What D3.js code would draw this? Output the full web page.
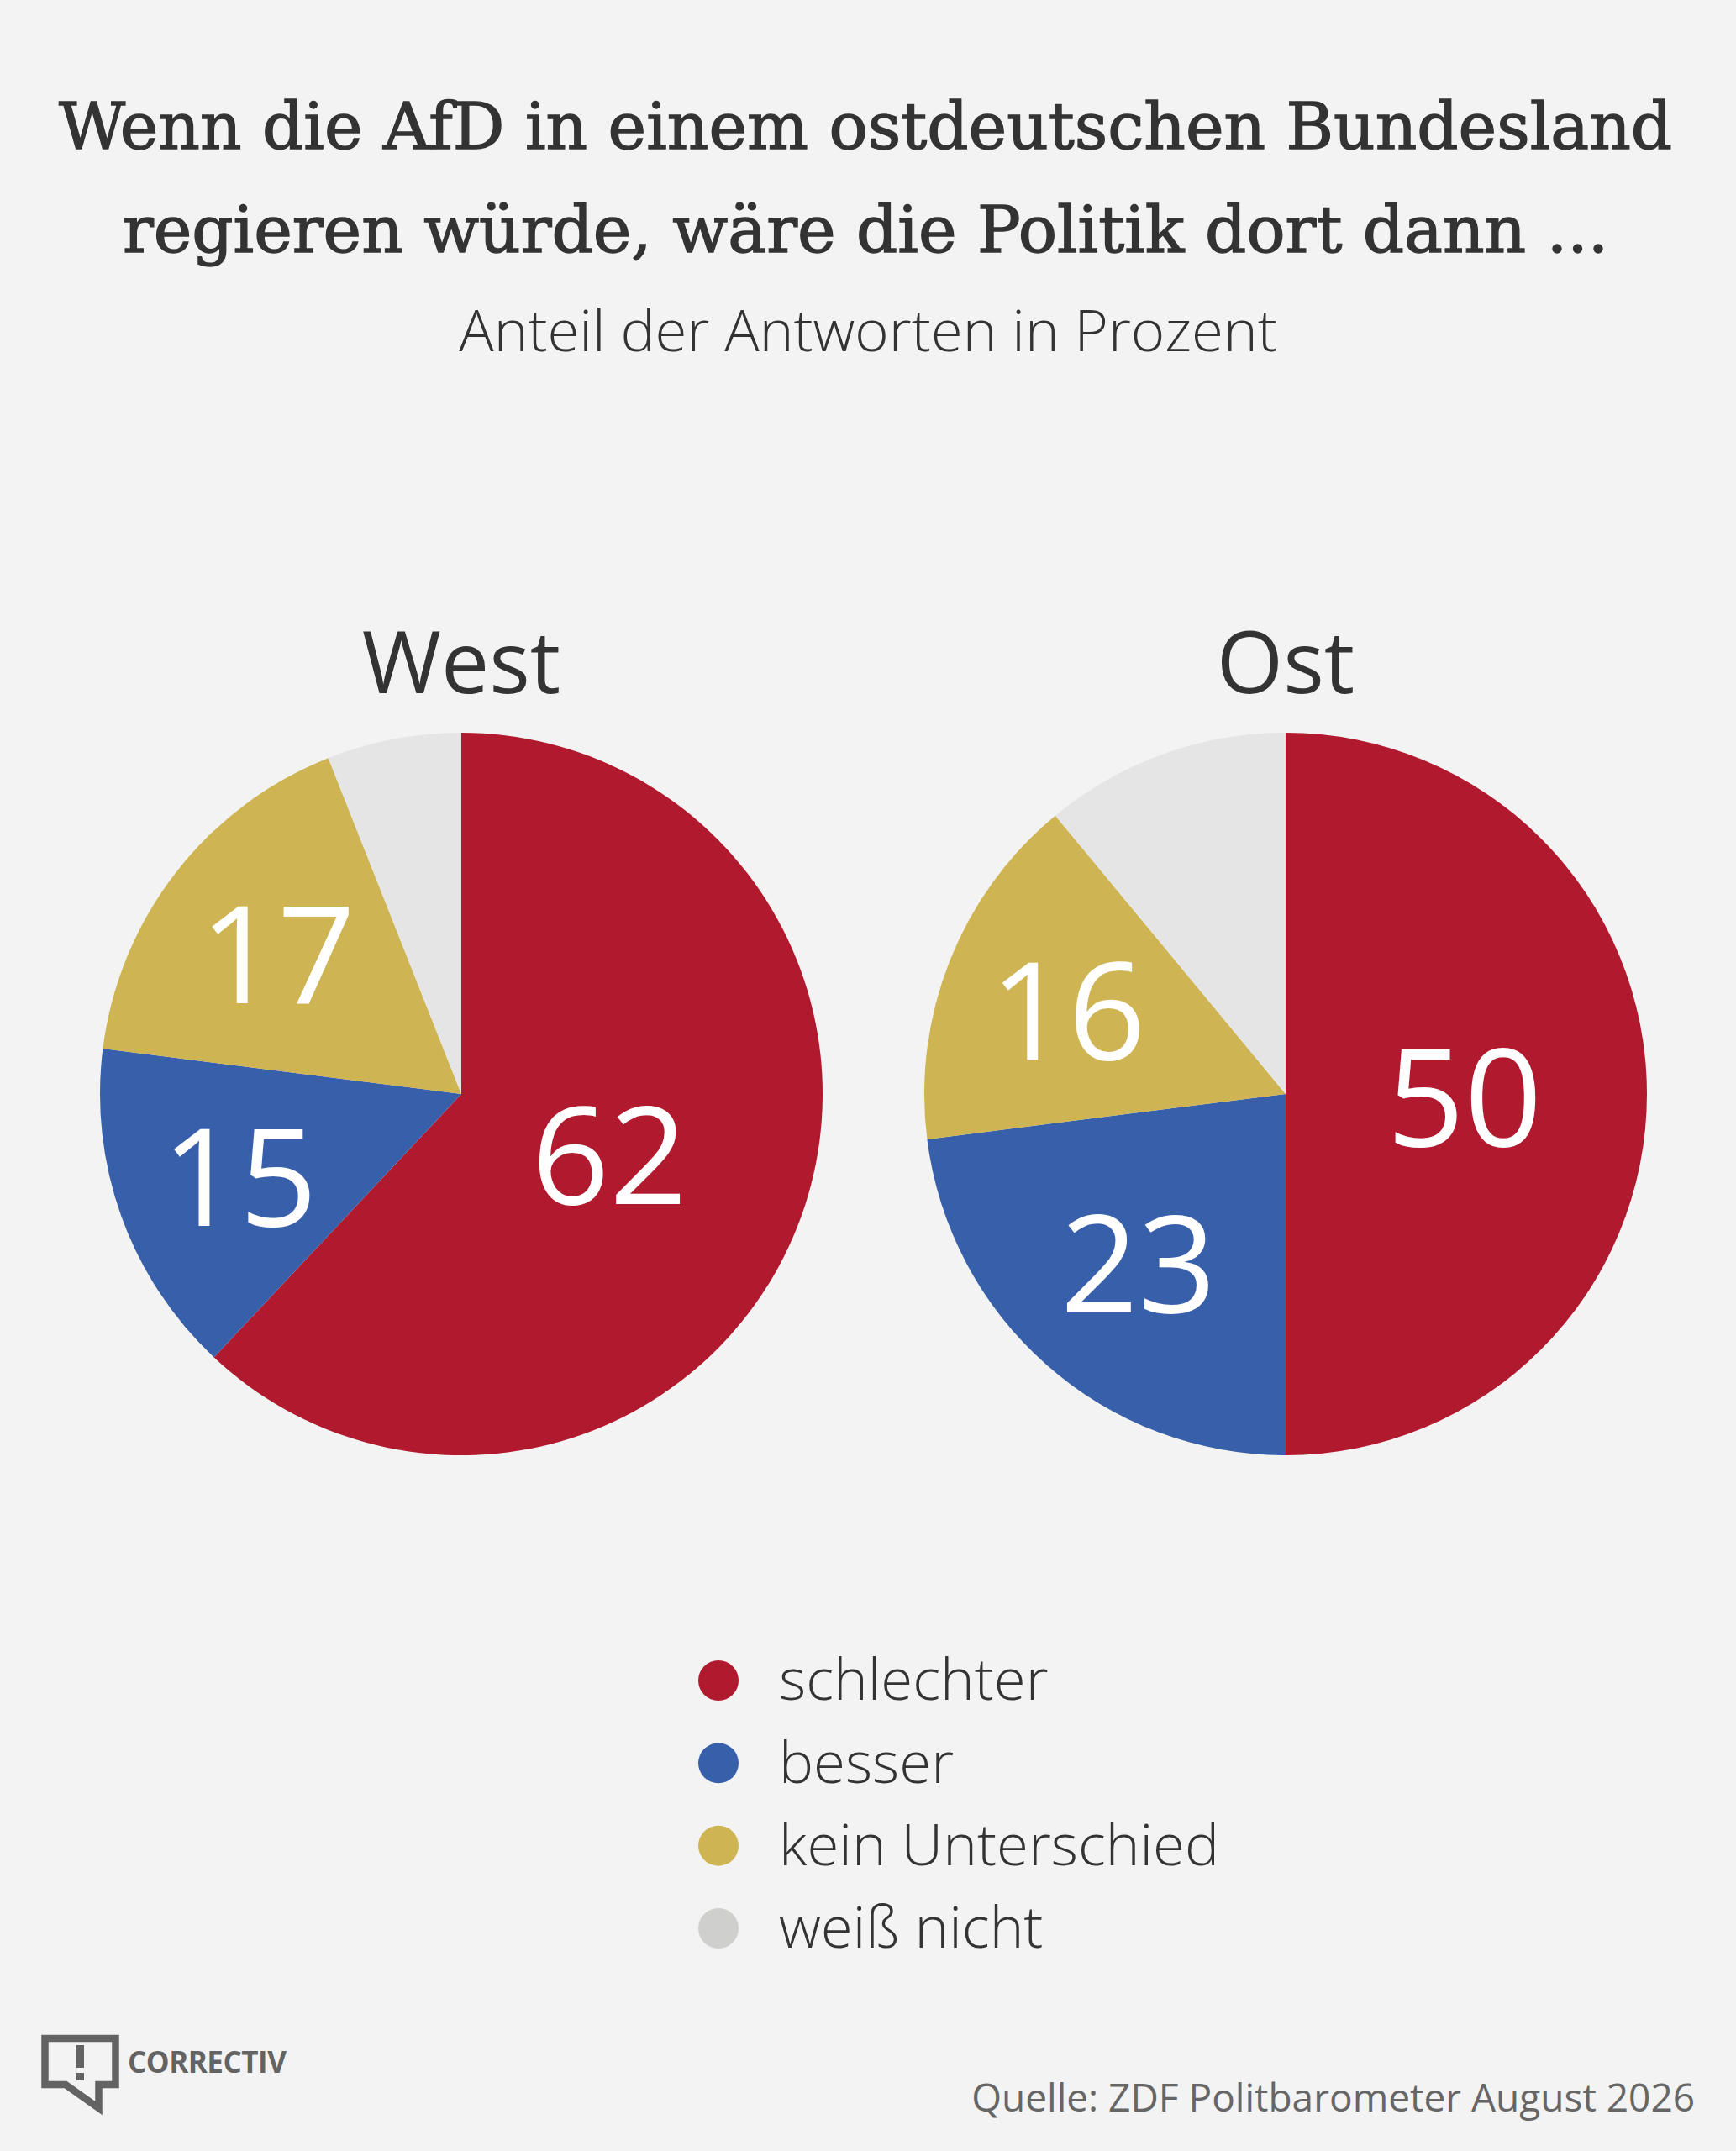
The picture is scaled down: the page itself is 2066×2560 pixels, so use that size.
<!DOCTYPE html>
<html lang="de">
<head>
<meta charset="UTF-8">
<title>AfD Umfrage West Ost</title>
<script src="https://cdn.jsdelivr.net/npm/d3@7"></script>
<style>
  html, body { margin: 0; padding: 0; background: #f3f3f3; }
  svg { display: block; }
</style>
</head>
<body>
<div id="chart"></div>
<script>
// Daten
var categories = ["schlechter", "besser", "kein Unterschied", "weiß nicht"];
var regions = ["West", "Ost"];
var westValues = [62, 15, 17, 6];
var ostValues = [50, 23, 16, 11];
var showLabel = [true, true, true, false];
var sliceColors = ["#b11a2e", "#3860aa", "#ceb452", "#e5e5e5"];
var legendColors = ["#b11a2e", "#3860aa", "#ceb452", "#cfcfcd"];

var width = 2066, height = 2560;
var sansFont = "'Open Sans', 'Noto Sans', sans-serif";

var svg = d3.select("#chart").append("svg")
    .attr("width", width)
    .attr("height", height);

svg.append("rect").attr("width", width).attr("height", height).attr("fill", "#f3f3f3");

// Titel
var title = svg.append("text")
    .attr("text-anchor", "middle")
    .attr("font-family", "'DejaVu Serif', serif")
    .attr("font-size", 77)
    .attr("fill", "#333")
    .attr("stroke", "#333")
    .attr("stroke-width", 1.4);
title.append("tspan").attr("x", 1030).attr("y", 177).text("Wenn die AfD in einem ostdeutschen Bundesland");
title.append("tspan").attr("x", 1030).attr("y", 300).text("regieren würde, wäre die Politik dort dann ...");

svg.append("text")
    .attr("x", 1033).attr("y", 418)
    .attr("text-anchor", "middle")
    .attr("font-family", sansFont)
    .attr("font-weight", 300)
    .attr("font-size", 69)
    .attr("fill", "#333")
    .text("Anteil der Antworten in Prozent");

// Kreise
var radius = 430;
var centerX = d3.scalePoint().domain(regions).range([549, 1530]);
var centerY = 1302;

var pie = d3.pie().sort(null).value(function(d) { return d.value; });
var arc = d3.arc().innerRadius(0).outerRadius(radius);

var pieData = [
  { region: "West", values: westValues },
  { region: "Ost", values: ostValues }
];

pieData.forEach(function(p) {
  var rows = categories.map(function(c, i) { return { cat: c, idx: i, value: p.values[i] }; });
  var total = d3.sum(rows, function(d) { return d.value; });
  var g = svg.append("g")
      .attr("transform", "translate(" + centerX(p.region) + "," + centerY + ")");

  g.append("text")
      .attr("x", 0).attr("y", -477)
      .attr("text-anchor", "middle")
      .attr("font-family", sansFont)
      .attr("font-size", 102)
      .attr("fill", "#333")
      .text(p.region);

  var arcs = pie(rows);
  g.selectAll("path.slice")
    .data(arcs)
    .enter().append("path")
      .attr("class", "slice")
      .attr("d", arc)
      .attr("fill", function(d) { return sliceColors[d.data.idx]; });

  g.selectAll("text.val")
    .data(arcs.filter(function(d) { return showLabel[d.data.idx]; }))
    .enter().append("text")
      .attr("class", "val")
      .attr("transform", function(d) {
        var frac = d.data.value / total;
        var lr = radius * (0.72 - 0.45 * frac);
        var c = d3.arc().innerRadius(lr).outerRadius(lr).centroid(d);
        return "translate(" + c[0] + "," + c[1] + ")";
      })
      .attr("text-anchor", "middle")
      .attr("dy", "0.38em")
      .attr("font-family", sansFont)
      .attr("font-size", 162)
      .attr("fill", "#fff")
      .text(function(d) { return d.data.value; });
});

// Legende
var legendY = d3.scalePoint().domain(categories).range([2000, 2295]);
var legend = svg.append("g");
var items = legend.selectAll("g")
  .data(categories)
  .enter().append("g")
    .attr("transform", function(d) { return "translate(855," + legendY(d) + ")"; });
items.append("circle")
    .attr("r", 24)
    .attr("fill", function(d, i) { return legendColors[i]; });
items.append("text")
    .attr("x", 72)
    .attr("dy", "0.34em")
    .attr("font-family", sansFont)
    .attr("font-weight", 300)
    .attr("font-size", 69)
    .attr("fill", "#333")
    .text(function(d) { return d; });

// Quelle
svg.append("text")
    .attr("x", 2017).attr("y", 2513)
    .attr("text-anchor", "end")
    .attr("font-family", sansFont)
    .attr("font-size", 46)
    .attr("fill", "#666")
    .text("Quelle: ZDF Politbarometer August 2026");

// Logo
var logo = svg.append("g").attr("fill", "#636363");
logo.append("path")
    .attr("fill", "none")
    .attr("stroke", "#636363")
    .attr("stroke-width", 8.5)
    .attr("d", "M53.5,2426 H137.5 V2481 H117.5 V2509 L78,2481 H53.5 Z");
logo.append("rect").attr("x", 91).attr("y", 2434).attr("width", 9).attr("height", 27);
logo.append("rect").attr("x", 91).attr("y", 2467).attr("width", 9).attr("height", 9);
logo.append("text")
    .attr("x", 152).attr("y", 2467)
    .attr("font-family", sansFont)
    .attr("font-weight", 700)
    .attr("font-size", 35)
    .attr("letter-spacing", -0.5)
    .attr("fill", "#636363")
    .text("CORRECTIV");
</script>
</body>
</html>
